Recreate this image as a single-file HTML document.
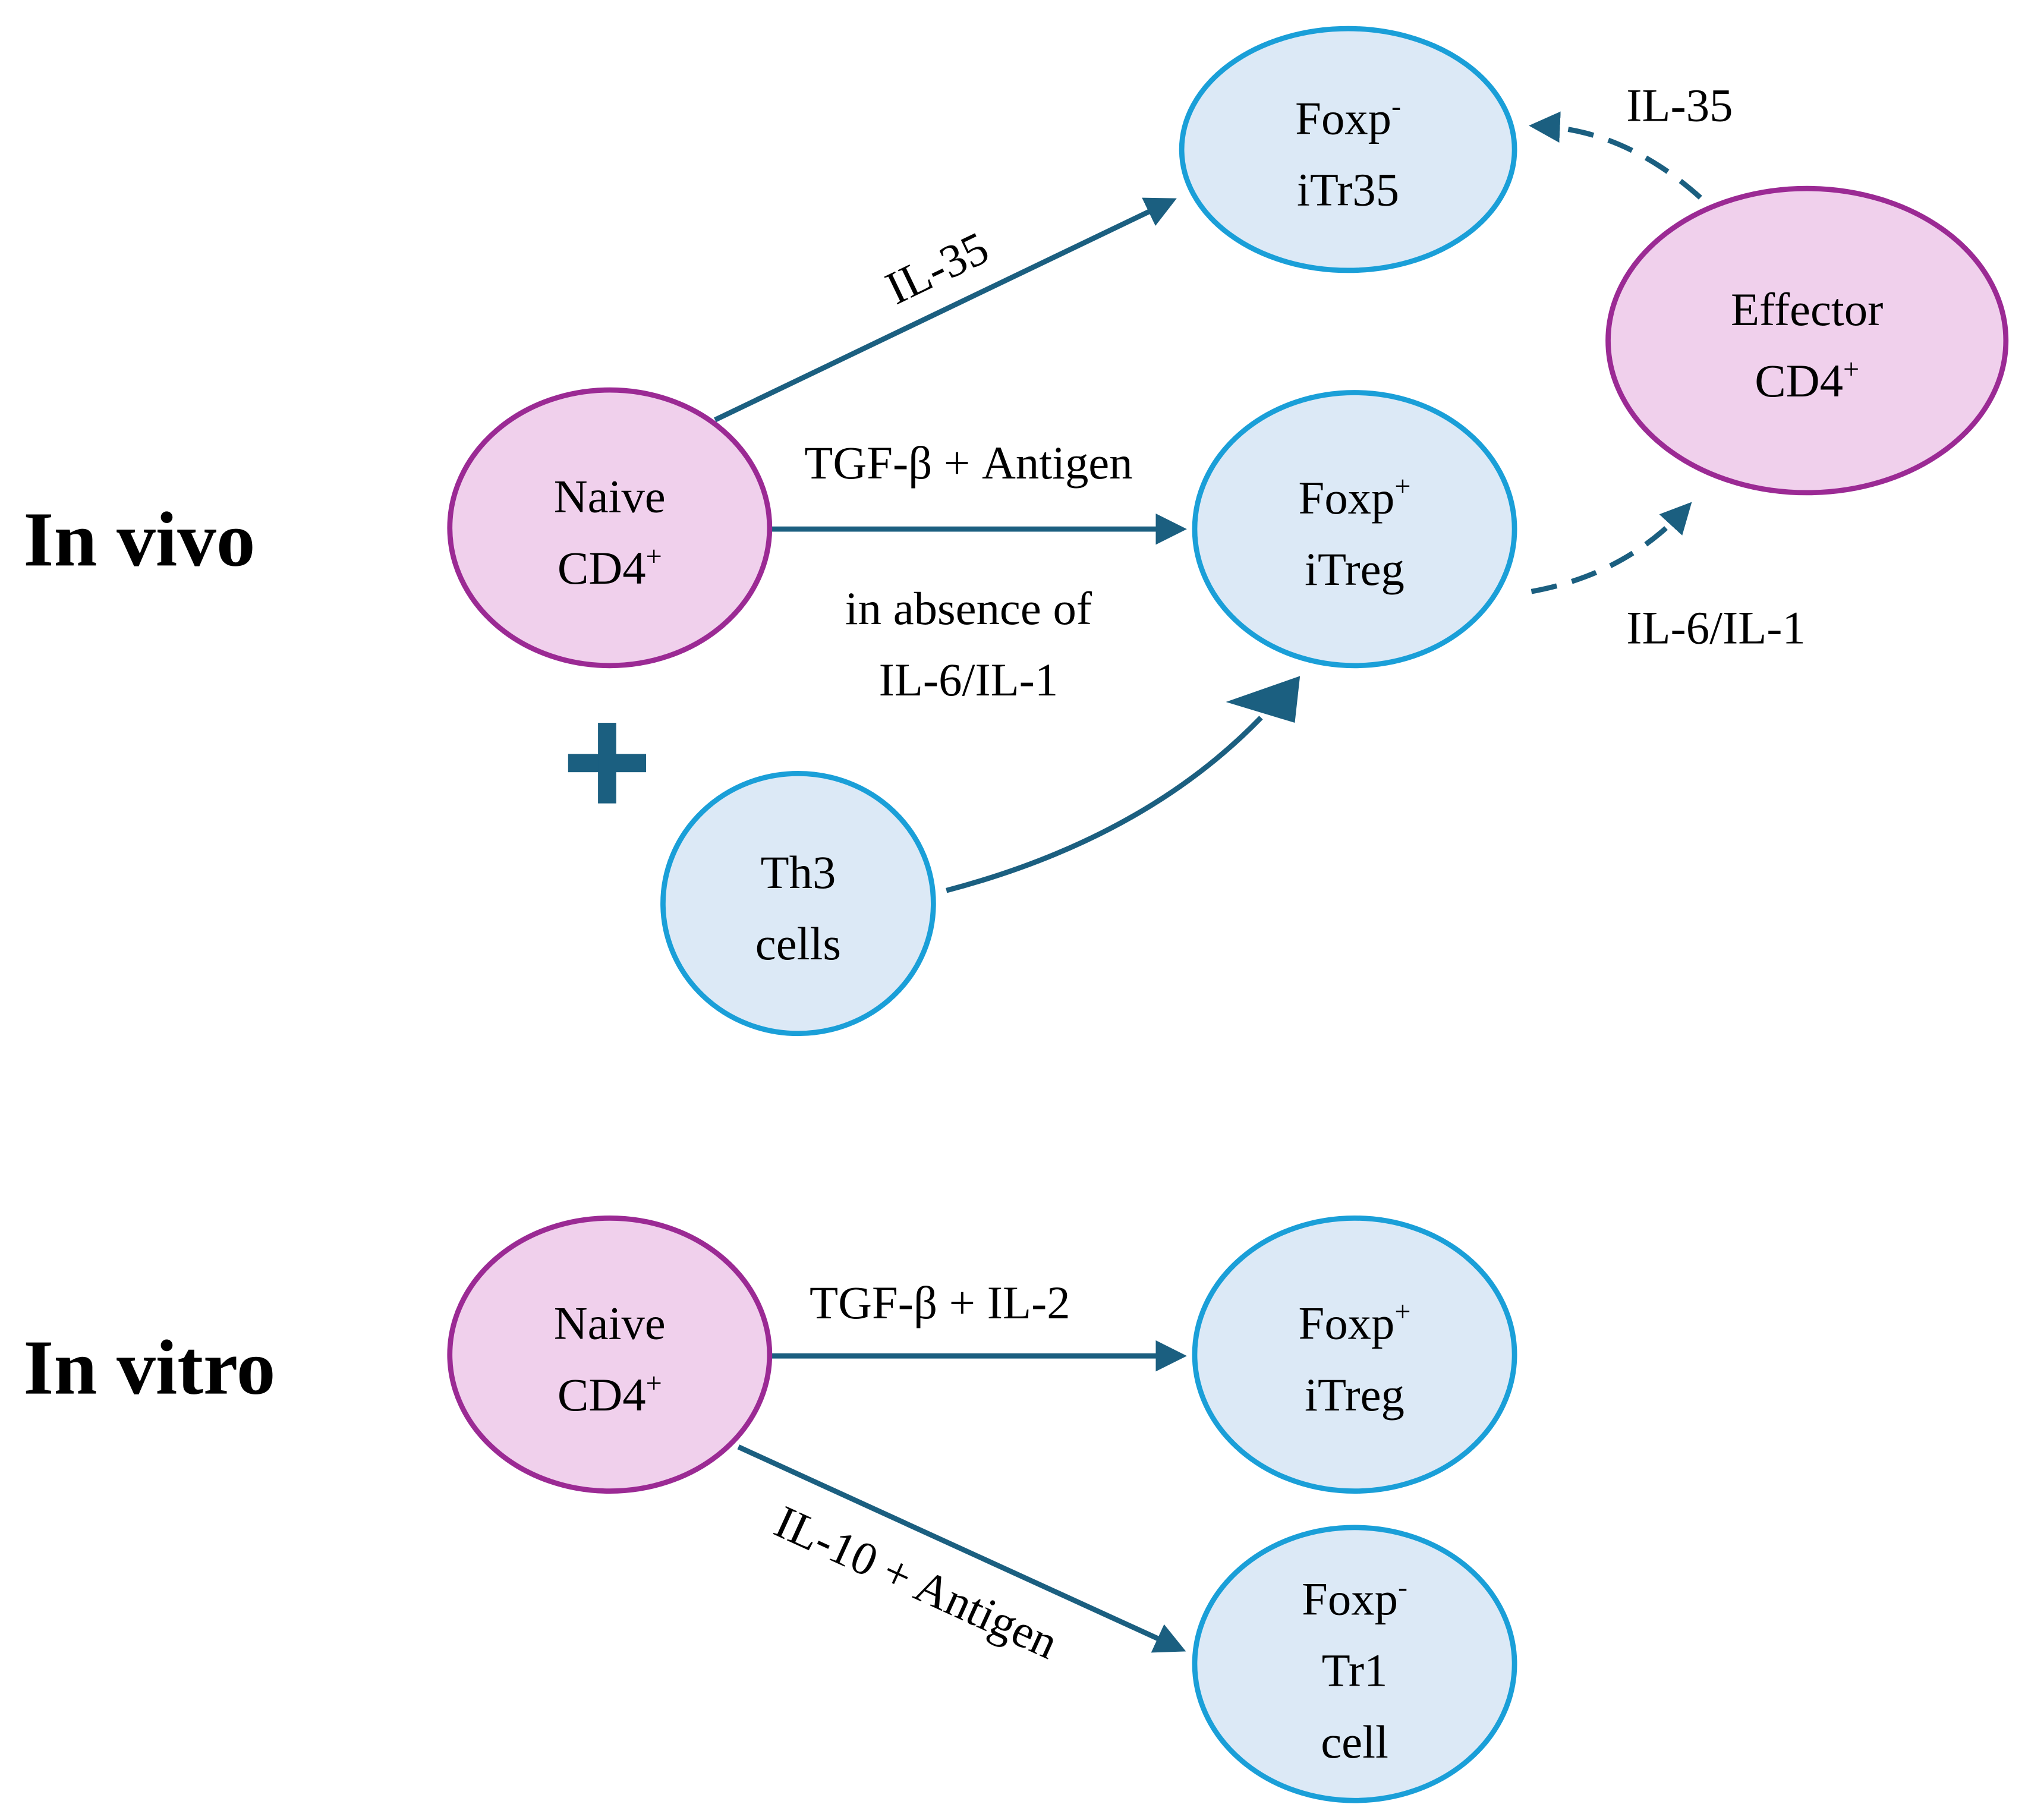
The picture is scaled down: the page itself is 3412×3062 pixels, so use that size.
<!DOCTYPE html>
<html><head><meta charset="utf-8"><style>
html,body{margin:0;padding:0;background:#fff;}
svg{display:block;}
text{font-family:"Liberation Serif",serif;fill:#000;}
</style></head><body>
<svg width="3412" height="3062" viewBox="0 0 1560 1400" preserveAspectRatio="none" xmlns="http://www.w3.org/2000/svg">
<defs>
<marker id="ah" markerWidth="6" markerHeight="6" refX="4" refY="3" orient="auto" markerUnits="strokeWidth">
<path d="M0,0 L6,3 L0,6 Z" fill="#1b5f80"/>
</marker>
</defs>
<g fill="none" stroke="#1b5f80" stroke-width="4">
<line x1="550" y1="323" x2="898" y2="156" marker-end="url(#ah)"/>
<line x1="593" y1="407" x2="905" y2="407" marker-end="url(#ah)"/>
<path d="M728,685 Q880,645 970,552"/>
<path d="M1178,455 Q1250,442 1296,392" stroke-dasharray="20,12" marker-end="url(#ah)"/>
<path d="M1308,152 Q1250,100 1184,97" stroke-dasharray="20,12" marker-end="url(#ah)"/>
<line x1="593" y1="1043" x2="905" y2="1043" marker-end="url(#ah)"/>
<line x1="568" y1="1113" x2="905" y2="1267" marker-end="url(#ah)"/>
</g>
<polygon points="943,540 1000,520 996,556" fill="#1b5f80"/>
<rect x="437" y="580" width="60" height="14" fill="#1b5f80"/>
<rect x="460" y="556" width="14" height="62" fill="#1b5f80"/>
<g stroke-width="4">
<ellipse cx="1037" cy="115" rx="128" ry="93" fill="#dce9f6" stroke="#1a9fd8"/>
<ellipse cx="1390" cy="262" rx="153" ry="117" fill="#f0d0ec" stroke="#9b2a94"/>
<ellipse cx="469" cy="406" rx="123" ry="106" fill="#f0d0ec" stroke="#9b2a94"/>
<ellipse cx="1042" cy="407" rx="123" ry="105" fill="#dce9f6" stroke="#1a9fd8"/>
<ellipse cx="614" cy="695" rx="104" ry="100" fill="#dce9f6" stroke="#1a9fd8"/>
<ellipse cx="469" cy="1042" rx="123" ry="105" fill="#f0d0ec" stroke="#9b2a94"/>
<ellipse cx="1042" cy="1042" rx="123" ry="105" fill="#dce9f6" stroke="#1a9fd8"/>
<ellipse cx="1042" cy="1280" rx="123" ry="105" fill="#dce9f6" stroke="#1a9fd8"/>
</g>
<g font-size="36" text-anchor="middle">
<text x="1037" y="103">Foxp<tspan font-size="22" dy="-14">-</tspan></text>
<text x="1037" y="158">iTr35</text>
<text x="1390" y="250">Effector</text>
<text x="1390" y="305">CD4<tspan font-size="22" dy="-14">+</tspan></text>
<text x="469" y="394">Naive</text>
<text x="469" y="449">CD4<tspan font-size="22" dy="-14">+</tspan></text>
<text x="1042" y="395">Foxp<tspan font-size="22" dy="-14">+</tspan></text>
<text x="1042" y="450">iTreg</text>
<text x="614" y="683">Th3</text>
<text x="614" y="738">cells</text>
<text x="469" y="1030">Naive</text>
<text x="469" y="1085">CD4<tspan font-size="22" dy="-14">+</tspan></text>
<text x="1042" y="1030">Foxp<tspan font-size="22" dy="-14">+</tspan></text>
<text x="1042" y="1085">iTreg</text>
<text x="1042" y="1242">Foxp<tspan font-size="22" dy="-14">-</tspan></text>
<text x="1042" y="1297">Tr1</text>
<text x="1042" y="1352">cell</text>
<text x="745" y="368">TGF-β + Antigen</text>
<text x="745" y="480">in absence of</text>
<text x="745" y="535">IL-6/IL-1</text>
<text x="1320" y="495">IL-6/IL-1</text>
<text x="1292" y="93">IL-35</text>
<text x="723" y="1014">TGF-β + IL-2</text>
<text transform="translate(726,217) rotate(-25.6)">IL-35</text>
<text transform="translate(700,1228) rotate(24.5)">IL-10 + Antigen</text>
</g>
<text x="18" y="435" font-size="60" font-weight="bold">In vivo</text>
<text x="18" y="1072" font-size="60" font-weight="bold">In vitro</text>
</svg>
</body></html>
